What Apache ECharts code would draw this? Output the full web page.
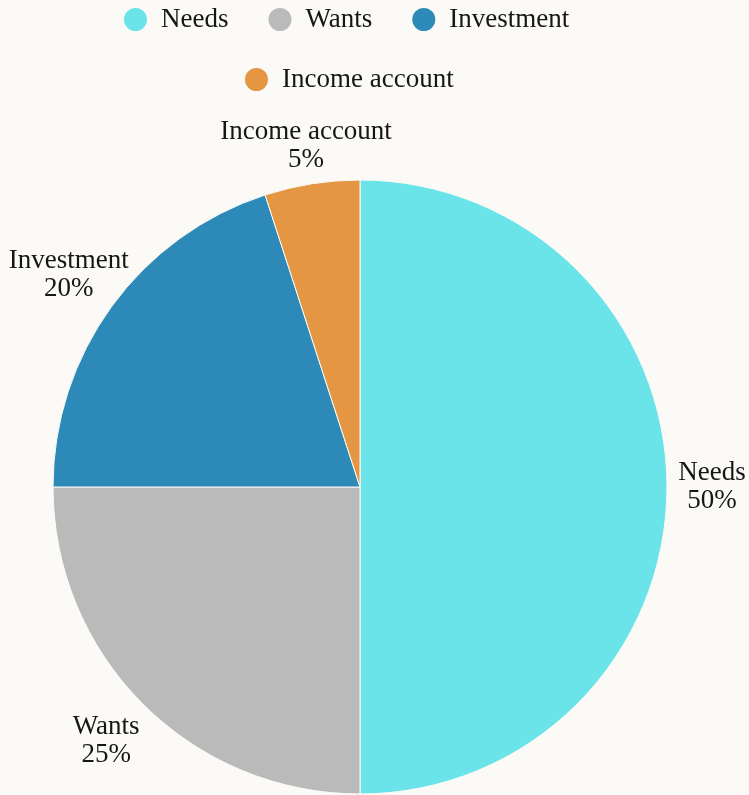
<!DOCTYPE html>
<html>
<head>
<meta charset="utf-8">
<script src="https://cdn.jsdelivr.net/npm/echarts@6/dist/echarts.min.js"></script>
<style>
html,body{margin:0;padding:0;background:#fbfaf7;}
#c{width:749px;height:795px;}
</style>
</head>
<body>
<div id="c"></div>
<script>
const categories = ['Needs', 'Wants', 'Investment', 'Income account'];
const values = [50, 25, 20, 5];
const colors = ['#6be4e9', '#bababa', '#2d89b7', '#e59643'];
// distance of each label centre beyond the pie edge (px)
const labelGap = [45, 52, 53, 38];

const FONT = '"Liberation Serif", "DejaVu Serif", serif';
const chart = echarts.init(document.getElementById('c'));

const legendCommon = {
  icon: 'circle',
  itemWidth: 41,
  itemHeight: 25,
  itemGap: 38,
  textStyle: { fontFamily: FONT, fontSize: 27, color: '#161616' },
  selectedMode: false
};

chart.setOption({
  backgroundColor: '#fbfaf7',
  animation: false,
  color: colors,
  legend: [
    Object.assign({}, legendCommon, { left: 117, top: 1, data: categories.slice(0, 3) }),
    Object.assign({}, legendCommon, { left: 238, top: 61, data: categories.slice(3) })
  ],
  series: [{
    type: 'pie',
    center: [360, 487],
    radius: [0, 307],
    startAngle: 90,
    clockwise: true,
    avoidLabelOverlap: false,
    itemStyle: { borderColor: '#fbfaf7', borderWidth: 1 },
    label: {
      show: true,
      position: 'outside',
      formatter: '{b}\n{d}%',
      fontFamily: FONT,
      fontSize: 27,
      lineHeight: 28,
      color: '#161616'
    },
    labelLine: { show: true, length: 10, length2: 0, lineStyle: { width: 0, opacity: 0 } },
    labelLayout: function (params) {
      const pts = params.labelLinePoints;
      if (!pts) return {};
      const p1 = pts[0], p2 = pts[1];
      const dx = p2[0] - p1[0], dy = p2[1] - p1[1];
      const len = Math.hypot(dx, dy) || 1;
      const d = labelGap[params.dataIndex];
      return {
        x: p1[0] + dx / len * d,
        y: p1[1] + dy / len * d,
        align: 'center',
        verticalAlign: 'middle'
      };
    },
    data: categories.map((n, i) => ({ name: n, value: values[i] }))
  }]
});
</script>
</body>
</html>
